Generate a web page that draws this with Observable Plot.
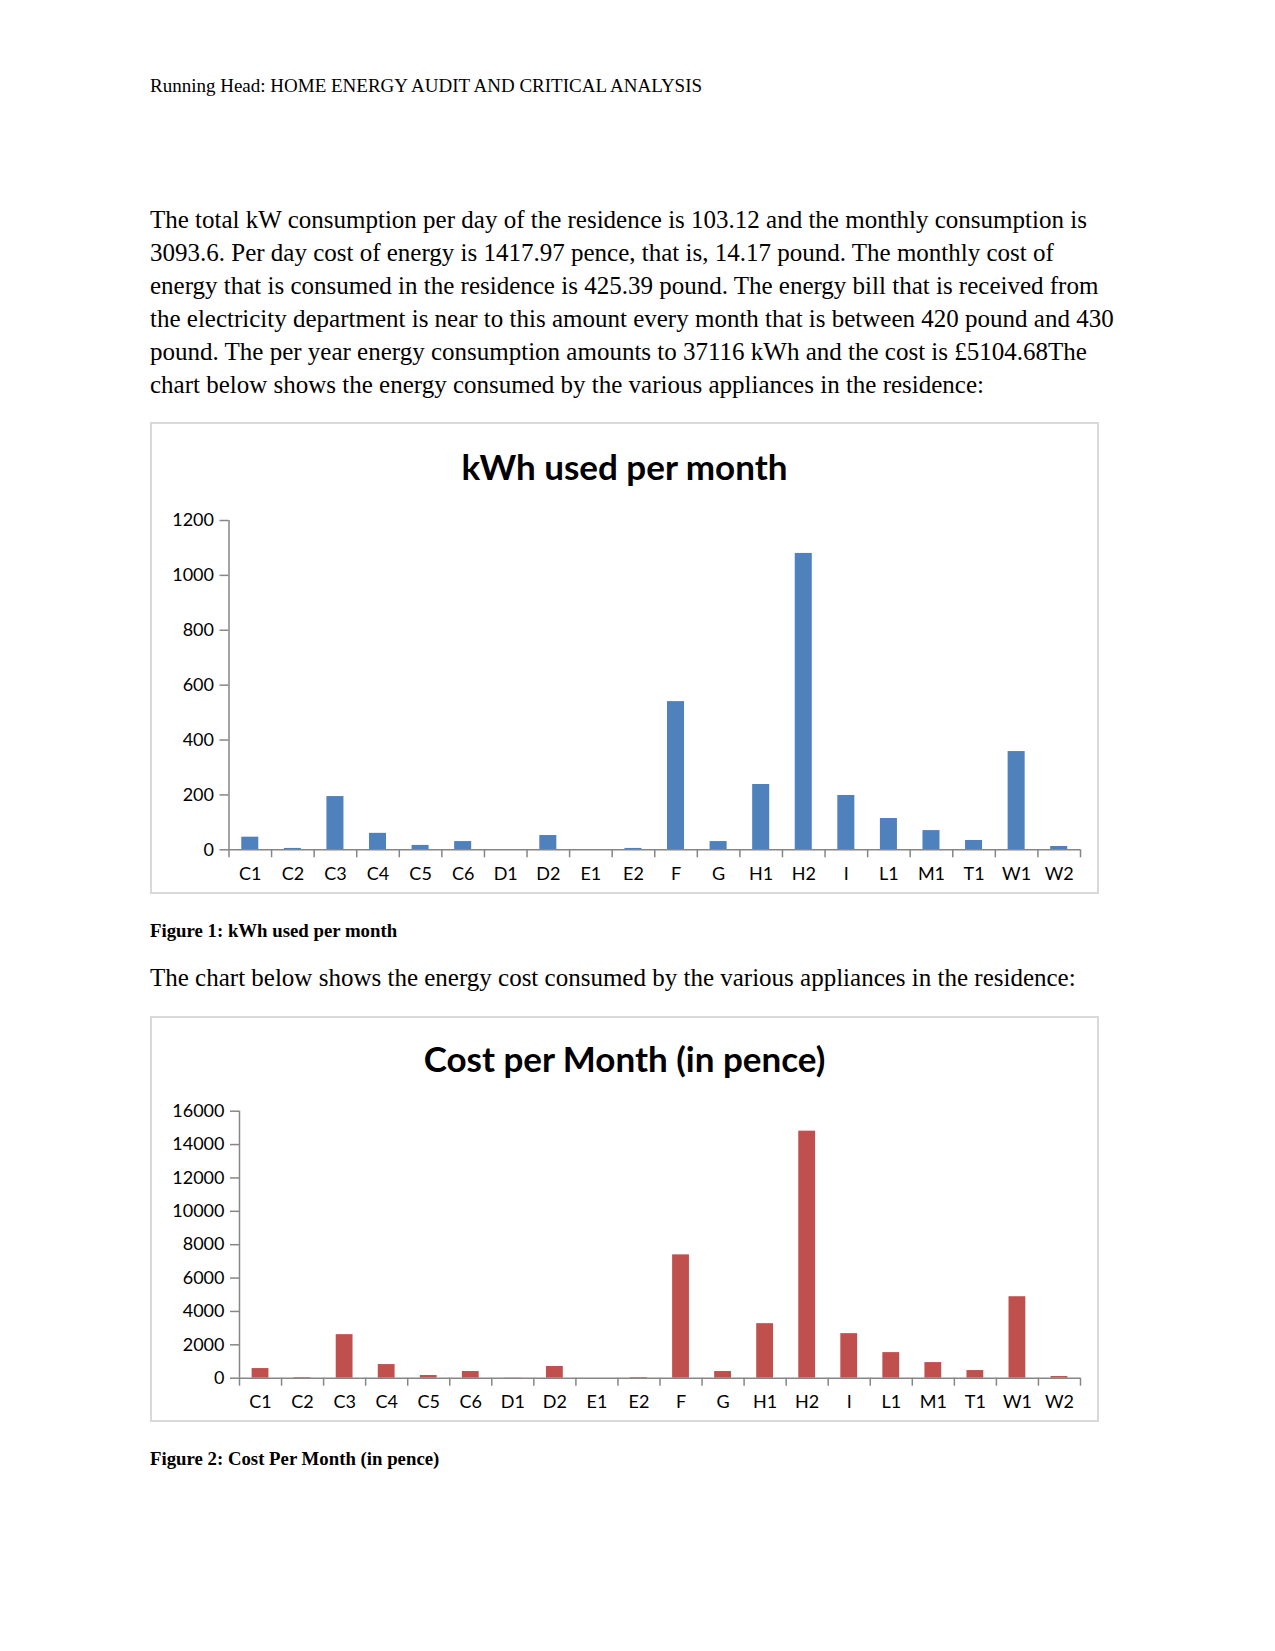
<!DOCTYPE html>
<html>
<head>
<meta charset="utf-8">
<script src="https://cdn.jsdelivr.net/npm/d3@7"></script>
<script src="https://cdn.jsdelivr.net/npm/@observablehq/plot@0.6"></script>
<style>
  html, body { margin: 0; padding: 0; background: #fff; }
  body { position: relative; width: 1275px; height: 1651px; overflow: hidden; }
  .serif { position: absolute; left: 150px; font-family: "Liberation Serif", "Times New Roman", serif; color: #000; white-space: nowrap; }
  .box { position: absolute; left: 150px; width: 949px; box-sizing: border-box; border: 2px solid #d9d9d9; }
  .title { position: absolute; left: 150px; width: 949px; text-align: center; font-family: Lato, "Open Sans", sans-serif; font-weight: bold; font-size: 35px; line-height: 42px; color: #000; white-space: nowrap; }
  .chart { position: absolute; left: 150px; }
</style>
</head>
<body>
<div class="serif" style="top:75.3px;font-size:19px;line-height:22px">Running Head: HOME ENERGY AUDIT AND CRITICAL ANALYSIS</div>
<div class="serif" style="top:202.9px;font-size:25px;line-height:33px">The total kW consumption per day of the residence is 103.12 and the monthly consumption is<br>3093.6. Per day cost of energy is 1417.97 pence, that is, 14.17 pound. The monthly cost of<br>energy that is consumed in the residence is 425.39 pound. The energy bill that is received from<br>the electricity department is near to this amount every month that is between 420 pound and 430<br>pound. The per year energy consumption amounts to 37116 kWh and the cost is £5104.68The<br>chart below shows the energy consumed by the various appliances in the residence:</div>

<div class="box" style="top:422px;height:472px"></div>
<div class="title" style="top:444.8px">kWh used per month</div>
<div class="chart" id="chart1" style="top:483px"></div>

<div class="serif" style="top:920.4px;font-size:18.8px;line-height:22px;font-weight:bold">Figure 1: kWh used per month</div>
<div class="serif" style="top:960.5px;font-size:25px;line-height:33px">The chart below shows the energy cost consumed by the various appliances in the residence:</div>

<div class="box" style="top:1016px;height:406px"></div>
<div class="title" style="top:1037.2px">Cost per Month (in pence)</div>
<div class="chart" id="chart2" style="top:1075px"></div>

<div class="serif" style="top:1447.7px;font-size:18.8px;line-height:22px;font-weight:bold">Figure 2: Cost Per Month (in pence)</div>

<script>
const categories = ["C1","C2","C3","C4","C5","C6","D1","D2","E1","E2","F","G","H1","H2","I","L1","M1","T1","W1","W2"];
const kwhPerMonth = [46, 5, 194, 60, 16, 30, 1, 52, 0, 5, 540, 30, 238, 1080, 198, 114, 70, 34, 358, 12];
const costPerMonth = [578, 40, 2610, 817, 160, 400, 15, 700, 0, 40, 7392, 400, 3268, 14804, 2670, 1534, 936, 458, 4882, 100];
const kwhTicks = [0, 200, 400, 600, 800, 1000, 1200];
const costTicks = [0, 2000, 4000, 6000, 8000, 10000, 12000, 14000, 16000];

function drawChart({values, ticks, fill, width, height, marginLeft, marginRight, marginTop, marginBottom}) {
  const data = categories.map((c, i) => ({cat: c, value: values[i]}));
  const max = ticks[ticks.length - 1];
  const step = (width - marginLeft - marginRight) / categories.length;
  const axisColor = "#868686";
  const tickLen = 8;
  return Plot.plot({
    width, height, marginLeft, marginRight, marginTop, marginBottom,
    style: {fontFamily: "Lato, 'Open Sans', sans-serif", fontSize: "18px", color: "#000", background: "transparent", overflow: "visible"},
    x: {domain: categories, paddingInner: 0.6, paddingOuter: 0.3, round: false, axis: null},
    y: {domain: [0, max], axis: null},
    marks: [
      Plot.barY(data, {x: "cat", y: "value", fill}),
      Plot.ruleY([0], {stroke: axisColor, strokeWidth: 1.5}),
      Plot.ruleX([categories[0]], {dx: -step / 2, y1: 0, y2: max, stroke: axisColor, strokeWidth: 1.5}),
      Plot.ruleX(categories, {dx: -step / 2, y1: 0, y2: 0, insetBottom: -tickLen, stroke: axisColor, strokeWidth: 1.5}),
      Plot.ruleX([categories[categories.length - 1]], {dx: step / 2, y1: 0, y2: 0, insetBottom: -tickLen, stroke: axisColor, strokeWidth: 1.5}),
      Plot.axisY({ticks, label: null, tickSize: 9, tickPadding: 6, stroke: axisColor, strokeWidth: 1.5, fill: "#000", fontSize: 18, tickFormat: d => String(d)}),
      Plot.axisX({label: null, tickSize: 0, tickPadding: 17.4, fill: "#000", fontSize: 18})
    ]
  });
}

document.getElementById("chart1").appendChild(drawChart({
  values: kwhPerMonth, ticks: kwhTicks, fill: "#4F81BD",
  width: 949, height: 405, marginLeft: 78.5, marginRight: 19, marginTop: 37, marginBottom: 38.7
}));
document.getElementById("chart2").appendChild(drawChart({
  values: costPerMonth, ticks: costTicks, fill: "#C0504D",
  width: 949, height: 340, marginLeft: 89, marginRight: 19, marginTop: 35.7, marginBottom: 37.3
}));
</script>
</body>
</html>
